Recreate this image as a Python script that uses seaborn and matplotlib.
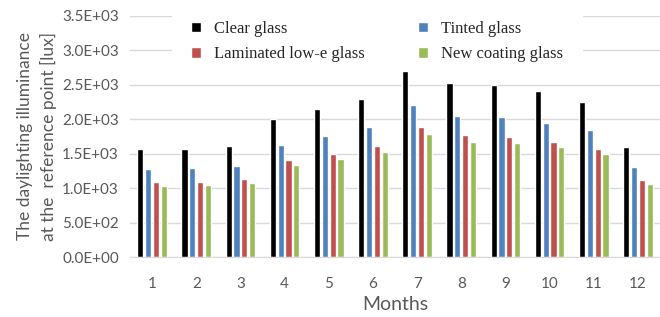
"""Iluminância natural mensal no ponto de referência por tipo de vidro."""
import matplotlib
matplotlib.use('Agg')
import matplotlib.pyplot as plt
import matplotlib.ticker as mticker
import pandas as pd
import seaborn as sns

# dados
meses = [1, 2, 3, 4, 5, 6, 7, 8, 9, 10, 11, 12]
clear_glass = [1560, 1570, 1610, 2000, 2140, 2290, 2690, 2520, 2490, 2400, 2250, 1600]
tinted_glass = [1270, 1290, 1320, 1630, 1750, 1880, 2205, 2050, 2035, 1950, 1838, 1300]
laminated_glass = [1090, 1090, 1130, 1400, 1500, 1612, 1890, 1768, 1740, 1665, 1566, 1110]
coating_glass = [1030, 1050, 1080, 1330, 1420, 1522, 1780, 1664, 1650, 1595, 1495, 1060]

series = ['Clear glass', 'Tinted glass', 'Laminated low-e glass', 'New coating glass']
cores = ['#000000', '#4F81BD', '#C0504D', '#9BBB59']

# tabela longa para o seaborn
df = pd.DataFrame({
    'mes': meses * 4,
    'serie': [s for s in series for _ in meses],
    'valor': clear_glass + tinted_glass + laminated_glass + coating_glass,
})

sns.set_style('white')
plt.rcParams['font.family'] = ['Lato', 'DejaVu Sans']

fig = plt.figure(figsize=(6.6, 3.17), dpi=100)
ax = fig.add_axes([0.197, 0.189, 0.803, 0.762])

sns.barplot(data=df, x='mes', y='valor', hue='serie', hue_order=series,
            palette=cores, width=0.71, gap=0.2, ax=ax, saturation=1,
            errorbar=None)

ax.set_ylim(0, 3500)
ax.set_xlim(-0.5, 11.5)
ax.yaxis.set_major_locator(mticker.MultipleLocator(500))
ax.yaxis.set_major_formatter(mticker.FuncFormatter(lambda v, p: f'{v:.1E}'))
ax.grid(axis='y', color='#d9d9d9', linewidth=1)
ax.set_axisbelow(True)
for lado in ['top', 'right', 'left']:
    ax.spines[lado].set_visible(False)
ax.spines['bottom'].set_color('#d9d9d9')
ax.tick_params(axis='both', length=0, colors='#595959', labelsize=11)
ax.tick_params(axis='x', pad=14)
ax.tick_params(axis='y', pad=8)

ax.set_xlabel('Months', fontsize=14, color='#595959', labelpad=4)
ax.set_ylabel('The daylighting illuminance\nat the  reference point [lux]',
              fontsize=12.5, color='#595959', labelpad=4, linespacing=1.45)

# legenda em 2 colunas, ordem igual ao original
handles, labels = ax.get_legend_handles_labels()
ordem = [0, 2, 1, 3]
leg = ax.legend([handles[i] for i in ordem], [labels[i] for i in ordem],
                ncol=2, loc='upper left', bbox_to_anchor=(0.064, 1.088),
                frameon=True, framealpha=1, edgecolor='white',
                prop={'family': 'Liberation Serif', 'size': 12},
                handlelength=0.6, handleheight=0.6, handletextpad=0.8,
                columnspacing=3.2, labelspacing=0.55, borderpad=1.1)
# legenda fica acima das linhas de grade mas abaixo das barras
leg.set_zorder(0.9)

fig.savefig('out.png', dpi=100)
